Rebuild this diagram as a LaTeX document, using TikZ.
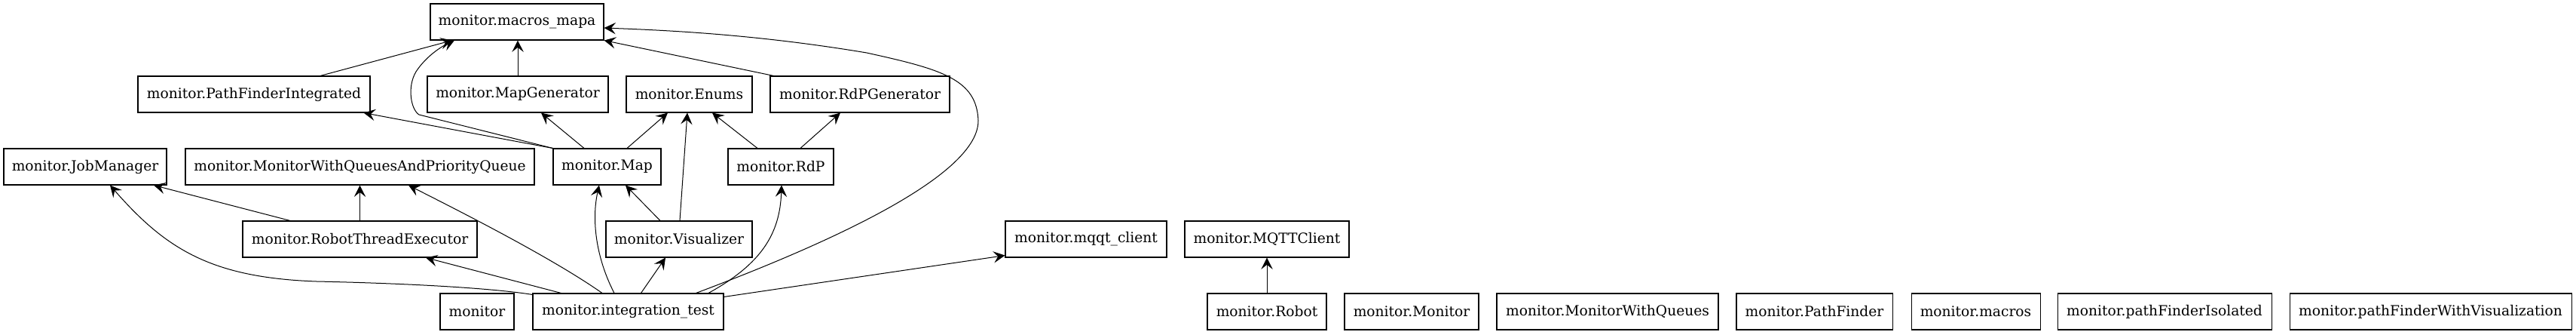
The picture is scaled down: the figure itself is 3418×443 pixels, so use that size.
\documentclass[tikz,border=0pt]{standalone}
\usepackage{fontspec}
\newfontfamily\dvs{DejaVu Serif}
\usetikzlibrary{arrows.meta,calc}
\begin{document}
\begin{tikzpicture}[x=0.75pt,y=-0.75pt,
  mod/.style={draw,line width=0.8pt,font=\dvs\fontsize{14}{16}\selectfont,minimum height=36pt,inner xsep=1pt,inner ysep=0pt,anchor=center},
  dep/.style={line width=0.75pt,-{Stealth[length=11.5pt,width=11.5pt,inset=4.5pt]}}]
\useasboundingbox (0,0) rectangle (3418,443);
\node[mod,minimum width=172.5pt] (mm) at (686,29) {monitor.macros\_mapa};
\node[mod,minimum width=231pt] (pfi) at (337,125) {monitor.PathFinderIntegrated};
\node[mod,minimum width=180pt] (mg) at (687,125) {monitor.MapGenerator};
\node[mod,minimum width=125.25pt] (enums) at (914.5,125) {monitor.Enums};
\node[mod,minimum width=178.5pt] (rdpgen) at (1141,125) {monitor.RdPGenerator};
\node[mod,minimum width=162pt] (jm) at (113,221) {monitor.JobManager};
\node[mod,minimum width=347.25pt] (mwqapq) at (477.5,221) {monitor.MonitorWithQueuesAndPriorityQueue};
\node[mod,minimum width=107.25pt] (map) at (805.5,221) {monitor.Map};
\node[mod,minimum width=105pt] (rdp) at (1036,221) {monitor.RdP};
\node[mod,minimum width=233.25pt] (rte) at (477.5,317) {monitor.RobotThreadExecutor};
\node[mod,minimum width=145.5pt] (vis) at (901,317) {monitor.Visualizer};
\node[mod,minimum width=160.5pt] (mqqt) at (1441,317) {monitor.mqqt\_client};
\node[mod,minimum width=163.5pt] (mqtt) at (1681,317) {monitor.MQTTClient};
\node[mod,minimum width=73.5pt] (monitor) at (633,413) {monitor};
\node[mod,minimum width=189.75pt] (integ) at (833.5,413) {monitor.integration\_test};
\node[mod,minimum width=118.5pt] (robot) at (1681,413) {monitor.Robot};
\node[mod,minimum width=133.5pt] (mon) at (1873,413) {monitor.Monitor};
\node[mod,minimum width=220.5pt] (mwq) at (2133,413) {monitor.MonitorWithQueues};
\node[mod,minimum width=155.25pt] (pf) at (2407.5,413) {monitor.PathFinder};
\node[mod,minimum width=128.25pt] (macros) at (2621.5,413) {monitor.macros};
\node[mod,minimum width=213pt] (pfiso) at (2872,413) {monitor.pathFinderIsolated};
\node[mod,minimum width=280.5pt] (pfwv) at (3225,413) {monitor.pathFinderWithVisualization};

\draw[dep] ($(pfi.north)+(88,0)$) -- ($(mm.south)+(-86,0)$);
\draw[dep] (map.north west) -- (556,152) .. controls (545,145) and (540,115) .. (552,95) .. controls (565,75) and (585,62) .. ($(mm.south)+(-83,0)$);
\draw[dep] (mg.north) -- (mg.north |- mm.south);
\draw[dep] ($(rdpgen.north west)+(5,0)$) -- (mm.south east);
\draw[dep] ($(integ.north east)+(-37,0)$) .. controls (1060,337) and (1298,240) .. (1298,160) .. controls (1296,105) and (1250,92) .. (1150,70) .. controls (1000,45) and (880,40) .. ($(mm.east)+(0,8)$);
\draw[dep] (map.north west) -- ($(pfi.south east)+(-9,0)$);
\draw[dep] ($(map.north)+(-30.5,0)$) -- ($(mg.south)+(31,0)$);
\draw[dep] ($(map.north)+(26.5,0)$) -- ($(enums.south)+(-28.5,0)$);
\draw[dep] ($(vis.north)+(1,0)$) -- ($(enums.south)+(-2.5,0)$);
\draw[dep] ($(vis.north)+(-25,0)$) -- ($(map.south)+(24.5,0)$);
\draw[dep] ($(rdp.north)+(-31,0)$) -- ($(enums.south)+(30.5,0)$);
\draw[dep] ($(rdp.north)+(26,0)$) -- ($(rdpgen.south)+(-26,0)$);
\draw[dep] ($(rte.north)+(-92.5,0)$) -- ($(jm.south)+(91,0)$);
\draw[dep] (rte.north) -- (mwqapq.south);
\draw[dep] ($(integ.north west)+(0,2)$) .. controls (660,383) and (560,376) .. (420,373) .. controls (280,368) and (220,330) .. ($(jm.south)+(33,0)$);
\draw[dep] ($(integ.north)+(-89,0)$) -- ($(rte.south)+(87.5,0)$);
\draw[dep] ($(integ.north)+(-34.5,0)$) .. controls (730,340) and (600,275) .. ($(mwqapq.south)+(64.5,0)$);
\draw[dep] ($(integ.north)+(-18.5,0)$) .. controls (790,340) and (785,290) .. ($(map.south)+(-10.5,0)$);
\draw[dep] ($(integ.north)+(17,0)$) -- ($(vis.south)+(-18,0)$);
\draw[dep] ($(integ.north)+(106.5,0)$) .. controls (1010,350) and (1035,310) .. ($(rdp.south)+(1,0)$);
\draw[dep] ($(integ.north east)+(0,5)$) -- ($(mqqt.south west)+(0,-3)$);
\draw[dep] (robot.north) -- (mqtt.south);
\end{tikzpicture}
\end{document}
